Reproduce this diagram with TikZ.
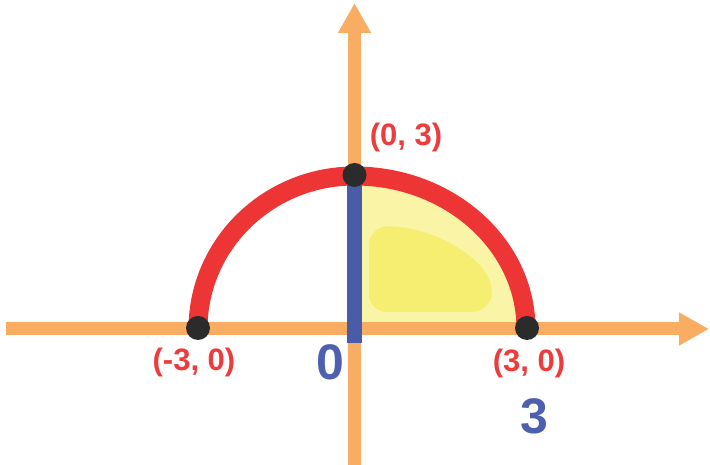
\documentclass[tikz,border=0pt]{standalone}
\usepackage{fontspec}
\setmainfont{Liberation Sans}
\usetikzlibrary{arrows.meta}
\definecolor{axisor}{HTML}{F8AD63}
\definecolor{arcred}{HTML}{EE3535}
\definecolor{txtred}{HTML}{EE3B3B}
\definecolor{segblue}{HTML}{4A5CA8}
\definecolor{txtblue}{HTML}{4D60B0}
\definecolor{dotdark}{HTML}{2B2B2B}
\definecolor{ylight}{HTML}{FAF5A6}
\definecolor{ymid}{HTML}{F5EE70}
\tikzset{
  axisline/.style={draw=axisor, line width=13pt, -{Triangle[width=31pt,length=30pt]}},
  redlabel/.style={text=txtred, font=\bfseries\fontsize{31}{31}\selectfont, inner sep=0pt},
  bluelabel/.style={text=txtblue, font=\bfseries\fontsize{50}{50}\selectfont, inner sep=0pt},
  ptdot/.style={circle, fill=dotdark, minimum size=24pt, inner sep=0pt},
}
\begin{document}
\begin{tikzpicture}[x=1pt,y=1pt]
\useasboundingbox (0,0) rectangle (710,465);
% named points
\coordinate (O) at (354.5,136);
\coordinate (L) at (198,136);
\coordinate (T) at (354.5,289);
\coordinate (R) at (526,136);
\coordinate (xs) at (6,136);
\coordinate (xe) at (709,136);
\coordinate (ys) at (354.5,0);
\coordinate (ye) at (354.5,462);
\coordinate (bb) at (354.5,122);
% yellow region
\fill[ylight] (O) -- (T) arc[start angle=90, end angle=0, x radius=171.5, y radius=153] -- cycle;
\fill[ymid, rounded corners=18pt] (369,153) -- (369,238) .. controls (430,240) and (495,205) .. (490,153) -- cycle;
% axes
\draw[axisline] (xs) -- (xe);
\draw[axisline] (ys) -- (ye);
% semicircle
\draw[arcred, line width=19pt] (L) arc[start angle=180, end angle=90, x radius=156.5, y radius=153]
  arc[start angle=90, end angle=0, x radius=171.5, y radius=153];
% blue segment
\draw[segblue, line width=15pt] (T) -- (bb);
% dots
\node[ptdot] (dL) at (198,137) {};
\node[ptdot] (dT) at (354.5,290) {};
\node[ptdot] (dR) at (527,137) {};
% labels
\node[redlabel] (l03) at (406,328) {(0, 3)};
\node[redlabel] (lm30) at (194,103) {(-3, 0)};
\node[redlabel] (l30) at (529,102) {(3, 0)};
\node[bluelabel] (z) at (330,103) {0};
\node[bluelabel] (th) at (534,49) {3};
\end{tikzpicture}
\end{document}
